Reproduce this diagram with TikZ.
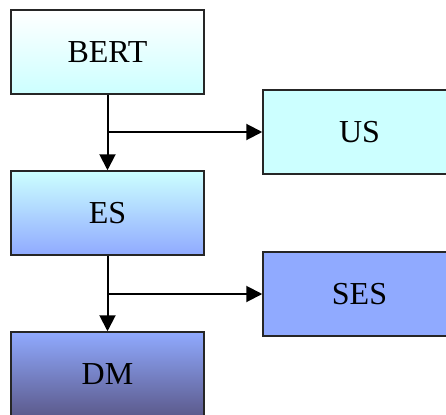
\documentclass[tikz,border=0pt]{standalone}
\usepackage{fontspec}
\setmainfont{Liberation Serif}
\usepackage{tikz}
\usetikzlibrary{arrows.meta}

\definecolor{paleCyan}{HTML}{CCFFFF}
\definecolor{softBlue}{HTML}{90AAFF}
\definecolor{duskBlue}{HTML}{5C5A8C}

\tikzset{
  stage/.style={draw=black!85, line width=1.5pt, minimum width=193pt,
    minimum height=84pt, inner sep=0pt, font=\fontsize{32}{38}\selectfont},
  flow/.style={line width=2pt, -{Triangle[length=16pt,width=16pt]}}
}

\begin{document}
\begin{tikzpicture}[x=1pt, y=1pt]

\useasboundingbox (0,0) rectangle (446,-414);

% Boxes on the left
\node[stage, top color=white, bottom color=paleCyan] (bert) at (107.5,-52) {BERT};
\node[stage, top color=paleCyan, bottom color=softBlue] (es) at (107.5,-213) {ES};
\node[stage, top color=softBlue, bottom color=duskBlue] (dm) at (107.5,-374) {DM};

% Boxes on the right
\node[stage, fill=paleCyan] (us) at (359.5,-132) {US};
\node[stage, fill=softBlue] (ses) at (359.5,-294) {SES};

% Branch points
\coordinate (fork1) at (bert.south |- us.west);
\coordinate (fork2) at (es.south |- ses.west);

% Arrows
\draw[flow] (bert.south) -- (es.north);
\draw[flow] (fork1) -- (us.west);
\draw[flow] (es.south) -- (dm.north);
\draw[flow] (fork2) -- (ses.west);
\end{tikzpicture}
\end{document}
